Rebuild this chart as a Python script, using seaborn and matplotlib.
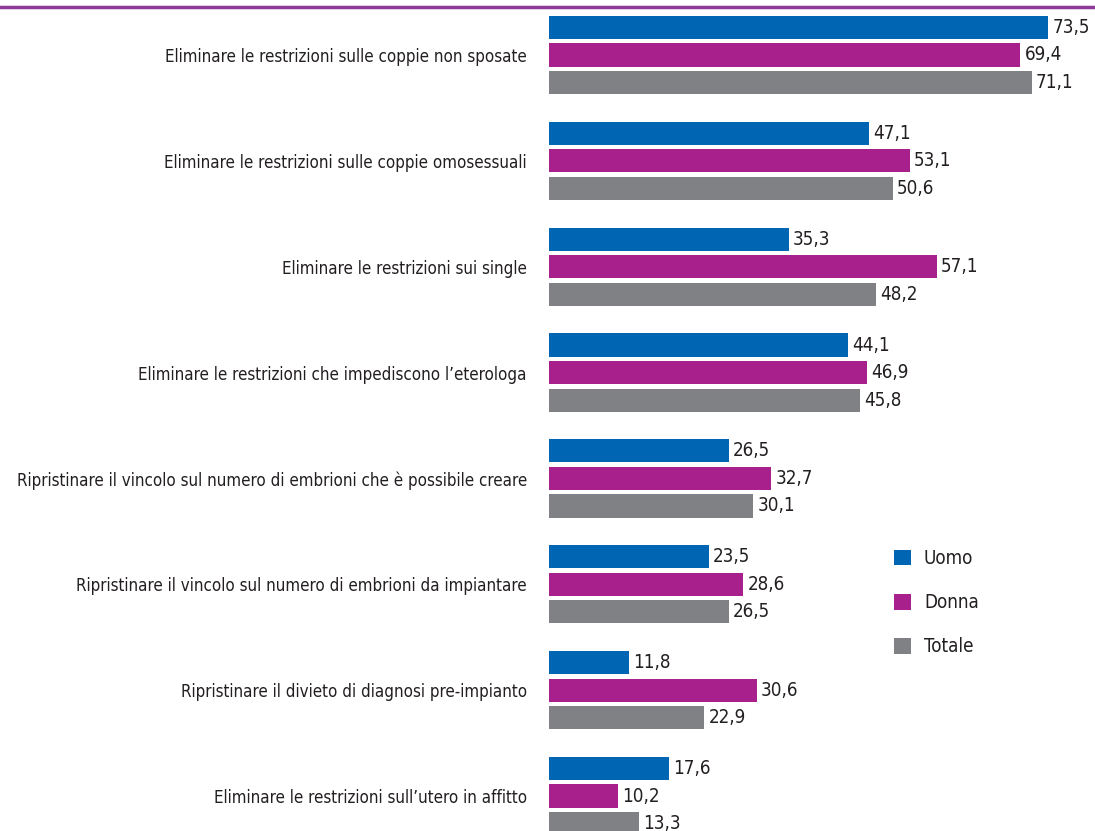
import pandas as pd
import matplotlib
matplotlib.use('Agg')
import matplotlib.pyplot as plt
import seaborn as sns
from matplotlib.lines import Line2D
from matplotlib.patches import Patch

sns.set_style('white')
plt.rcParams['font.family'] = ['DejaVu Sans']
plt.rcParams['font.stretch'] = 'condensed'

# dati
categorie = [
    'Eliminare le restrizioni sulle coppie non sposate',
    'Eliminare le restrizioni sulle coppie omosessuali',
    'Eliminare le restrizioni sui single',
    'Eliminare le restrizioni che impediscono l\u2019eterologa',
    'Ripristinare il vincolo sul numero di embrioni che è possibile creare',
    'Ripristinare il vincolo sul numero di embrioni da impiantare',
    'Ripristinare il divieto di diagnosi pre-impianto',
    'Eliminare le restrizioni sull\u2019utero in affitto',
]
uomo = [73.5, 47.1, 35.3, 44.1, 26.5, 23.5, 11.8, 17.6]
donna = [69.4, 53.1, 57.1, 46.9, 32.7, 28.6, 30.6, 10.2]
totale = [71.1, 50.6, 48.2, 45.8, 30.1, 26.5, 22.9, 13.3]
serie = ['Uomo', 'Donna', 'Totale']
colori = ['#0066B3', '#A7208C', '#808185']

df = pd.DataFrame({'categoria': categorie, 'Uomo': uomo, 'Donna': donna, 'Totale': totale})
df = df.melt(id_vars='categoria', var_name='sesso', value_name='valore')

fig = plt.figure(figsize=(10.95, 8.31), dpi=100)
ax = fig.add_axes([549 / 1095, 0, 1 - 549 / 1095, 1 - 10 / 831])

sns.barplot(data=df, y='categoria', x='valore', hue='sesso', hue_order=serie,
            palette=colori, orient='h', width=0.78, gap=0.16, errorbar=None,
            saturation=1, linewidth=0, ax=ax, legend=False)

for cont in ax.containers:
    ax.bar_label(cont, labels=[f'{v:.1f}'.replace('.', ',') for v in cont.datavalues],
                 padding=3, fontsize=13.5, color='#231F20')

ax.set_xlim(0, (1095 - 549) / 6.79)
ax.set_ylim(7 + 35 / 106, -45 / 106)
ax.set_xlabel('')
ax.set_ylabel('')
ax.set_xticks([])
ax.tick_params(axis='y', length=0, pad=16, labelsize=12.2, labelcolor='#231F20')
for s in ax.spines.values():
    s.set_visible(False)

# linea viola in alto
fig.add_artist(Line2D([0, 1], [1 - 7 / 831, 1 - 7 / 831], color='#8E3A98', lw=2.5,
                      transform=fig.transFigure))

handles = [Patch(facecolor=c, edgecolor='none') for c in colori]
fig.legend(handles, serie, loc='upper left', bbox_to_anchor=(877 / 1095, 1 - 532 / 831),
           frameon=False, fontsize=13.5, handlelength=0.9, handleheight=0.9,
           labelspacing=1.35, handletextpad=0.7, labelcolor='#231F20')

fig.savefig('out.png', dpi=100)
